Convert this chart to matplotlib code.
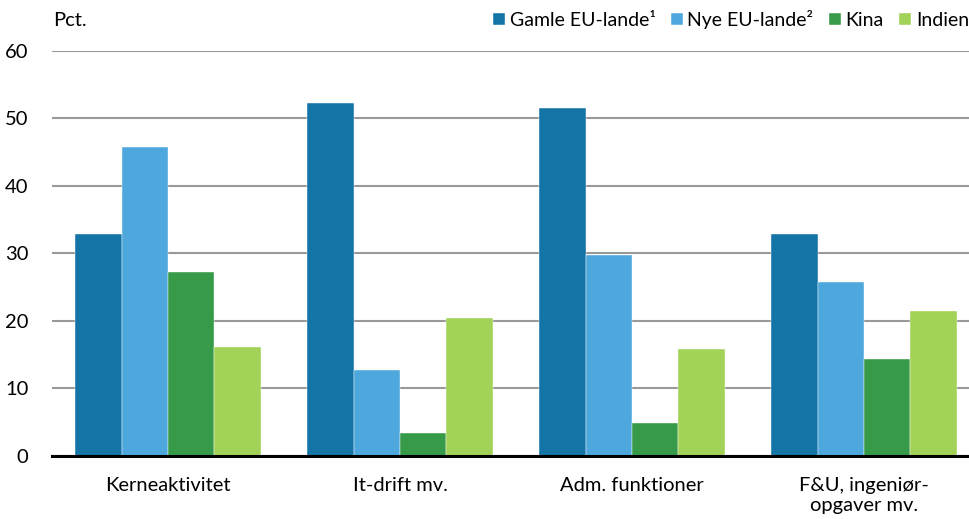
import matplotlib
matplotlib.use('Agg')
import matplotlib.pyplot as plt
import numpy as np

plt.rcParams['font.family'] = ['Lato', 'DejaVu Sans']

categories = ['Kerneaktivitet', 'It-drift mv.', 'Adm. funktioner', 'F&U, ingeniør-\nopgaver mv.']
series = ['Gamle EU-lande¹', 'Nye EU-lande²', 'Kina', 'Indien']
gamle = [32.9, 52.3, 51.5, 32.9]
nye = [45.8, 12.8, 29.8, 25.7]
kina = [27.3, 3.4, 4.9, 14.3]
indien = [16.2, 20.4, 15.8, 21.5]
colors = ['#1474a6', '#4ea7dd', '#379a48', '#a2d257']

fig = plt.figure(figsize=(9.69, 5.19), dpi=100)
ax = fig.add_axes([52/969, 1 - 456/519, 1 - 52/969, (456 - 50.7)/519])

x = np.arange(len(categories))
w = 0.2
for i, (vals, name) in enumerate(zip([gamle, nye, kina, indien], series)):
    ax.bar(x + (i - 1.5) * w, vals, w, color=colors[i], label=name,
           edgecolor='white', linewidth=0.3, zorder=2)

ax.set_xlim(-0.5, 3.453)
ax.set_ylim(0, 60)
ax.set_yticks(range(0, 61, 10))
ax.yaxis.grid(True, color='#999999', linewidth=1.5, zorder=0)
ax.set_axisbelow(True)
for s in ['top', 'right', 'left']:
    ax.spines[s].set_visible(False)
ax.spines['bottom'].set_linewidth(2.2)
ax.spines['bottom'].set_color('black')
ax.spines['bottom'].set_zorder(3)
ax.tick_params(axis='y', length=0, pad=17, labelsize=14.5)
ax.tick_params(axis='x', length=0, pad=15, labelsize=14.5)
ax.set_xticks(x)
ax.set_xticklabels(categories, linespacing=1.2)

fig.text(53/969, 1 - 21/519, 'Pct.', fontsize=14.5, va='center', ha='left')

fig.legend(loc='upper right', bbox_to_anchor=(1.0, 1 - 10/519), ncol=4, frameon=False,
           fontsize=14, handlelength=0.6, handleheight=0.6, handletextpad=0.25,
           columnspacing=0.8, borderaxespad=0, borderpad=0)

fig.savefig('out.png', dpi=100)
